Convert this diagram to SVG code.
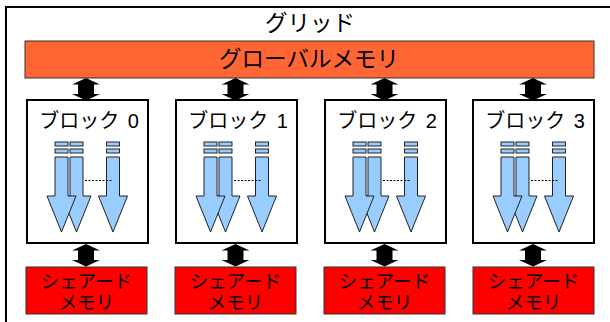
<svg xmlns="http://www.w3.org/2000/svg" xmlns:xlink="http://www.w3.org/1999/xlink" width="610" height="322" viewBox="0 0 610 322">
<style>
text{font-family:"Liberation Sans","Noto Sans CJK JP",sans-serif;fill:#000;text-anchor:middle}
.grid{fill:#fff;stroke:#000;stroke-width:2}
.gmem{fill:#FF6633;stroke:#333;stroke-width:1}
.blk{fill:#fff;stroke:#000;stroke-width:2}
.smem{fill:#FF0000;stroke:#333;stroke-width:1}
.thr{fill:#99CCFF;stroke:#222;stroke-width:1}
.dbl{fill:#000}
.dot{stroke:#000;stroke-width:1;stroke-dasharray:2,1.5;fill:none}
.t22{font-size:22.5px}
.t20{font-size:20px}
.t18{font-size:18.5px}
</style>
<defs>
<g id="threads">
<rect class="thr" x="28" y="142" width="13" height="4"/>
<rect class="thr" x="28" y="149" width="13" height="4"/>
<rect class="thr" x="43" y="142" width="13" height="4"/>
<rect class="thr" x="43" y="149" width="13" height="4"/>
<rect class="thr" x="79.5" y="142" width="13" height="4"/>
<rect class="thr" x="79.5" y="149" width="13" height="4"/>
<path class="thr" d="M43,157H56V196H64L49.5,232L35,196H43Z"/>
<path class="thr" d="M28,157H41V196H49L34.5,232L20,196H28Z"/>
<path class="thr" d="M79.5,157H92.5V196H100.5L86,232L71.5,196H79.5Z"/>
<line class="dot" x1="58" y1="180.5" x2="86" y2="180.5"/>
</g>
<path id="dblarrow" d="M0,0L14,6.5H8V16H14L0,22.5L-14,16H-8V6.5H-14Z"/>
</defs>
<g id="grid">
<rect class="grid" x="6" y="7" width="620" height="330"/>
<text class="t22" x="310" y="31">グリッド</text>
</g>
<g id="global-memory">
<rect class="gmem" x="25" y="41" width="569" height="37"/>
<text class="t22" x="309" y="67">グローバルメモリ</text>
</g>
<g id="block0">
<rect class="blk" x="27" y="100" width="121" height="143"/>
<text class="t20" x="89" y="128">ブロック <tspan dx="3">0</tspan></text>
<use xlink:href="#threads" x="27"/>
</g>
<g id="block1">
<rect class="blk" x="176" y="100" width="121" height="143"/>
<text class="t20" x="238" y="128">ブロック <tspan dx="3">1</tspan></text>
<use xlink:href="#threads" x="176"/>
</g>
<g id="block2">
<rect class="blk" x="325" y="100" width="121" height="143"/>
<text class="t20" x="387" y="128">ブロック <tspan dx="3">2</tspan></text>
<use xlink:href="#threads" x="325"/>
</g>
<g id="block3">
<rect class="blk" x="473" y="100" width="121" height="143"/>
<text class="t20" x="535" y="128">ブロック <tspan dx="3">3</tspan></text>
<use xlink:href="#threads" x="473"/>
</g>
<g id="shared0">
<rect class="smem" x="26" y="267" width="121" height="47"/>
<text class="t18" x="86.5" y="288">シェアード</text>
<text class="t18" x="86.5" y="309">メモリ</text>
</g>
<g id="shared1">
<rect class="smem" x="175" y="267" width="121" height="47"/>
<text class="t18" x="235.5" y="288">シェアード</text>
<text class="t18" x="235.5" y="309">メモリ</text>
</g>
<g id="shared2">
<rect class="smem" x="324" y="267" width="121" height="47"/>
<text class="t18" x="384.5" y="288">シェアード</text>
<text class="t18" x="384.5" y="309">メモリ</text>
</g>
<g id="shared3">
<rect class="smem" x="473" y="267" width="121" height="47"/>
<text class="t18" x="533.5" y="288">シェアード</text>
<text class="t18" x="533.5" y="309">メモリ</text>
</g>
<g id="connectors">
<use class="dbl" xlink:href="#dblarrow" x="86" y="78"/>
<use class="dbl" xlink:href="#dblarrow" x="235.5" y="78"/>
<use class="dbl" xlink:href="#dblarrow" x="384.5" y="78"/>
<use class="dbl" xlink:href="#dblarrow" x="533" y="78"/>
<use class="dbl" xlink:href="#dblarrow" x="86" y="244"/>
<use class="dbl" xlink:href="#dblarrow" x="235.5" y="244"/>
<use class="dbl" xlink:href="#dblarrow" x="384.5" y="244"/>
<use class="dbl" xlink:href="#dblarrow" x="533" y="244"/>
</g>
</svg>
